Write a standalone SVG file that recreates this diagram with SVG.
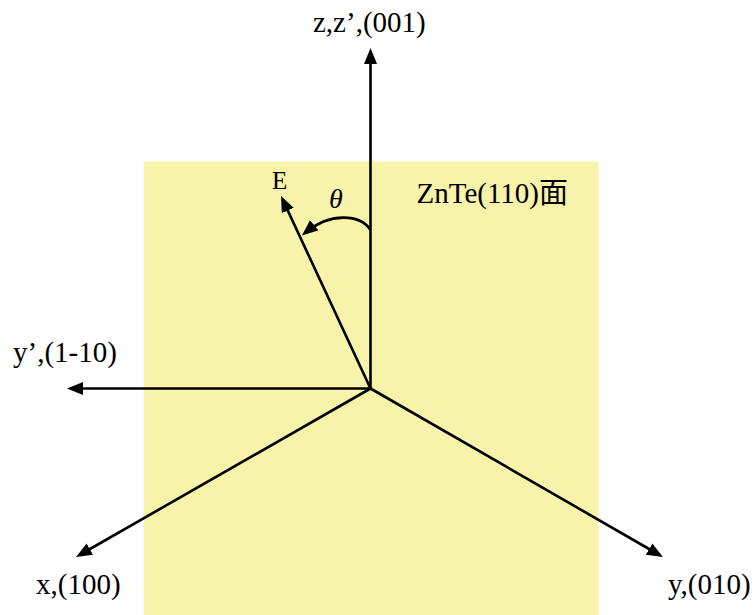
<svg xmlns="http://www.w3.org/2000/svg" width="756" height="615" viewBox="0 0 756 615">
<defs>
<marker id="ah" markerUnits="userSpaceOnUse" markerWidth="18" markerHeight="14" refX="12" refY="6.5" orient="auto">
<path d="M0,0 L16,6.5 L0,13 Z" fill="#000"/>
</marker>
<style>
.ax{stroke:#000;stroke-width:2.6;fill:none;marker-end:url(#ah)}
.lb{font-family:"Liberation Serif","Times New Roman",serif;font-size:29px;fill:#000}
.e{font-family:"Liberation Serif","Times New Roman",serif;font-size:25px;fill:#000}
.th{font-family:"Liberation Serif","Times New Roman",serif;font-size:28px;font-style:italic;fill:#000}
</style>
</defs>
<rect width="756" height="615" fill="#fff"/>
<g id="plane">
<rect x="143.5" y="161.5" width="455" height="454" fill="#F7F3AA"/>
<text class="lb" x="416.5" y="203">ZnTe(110)<tspan font-family="Noto Sans CJK SC, serif">面</tspan></text>
</g>
<g id="connectors">
<path class="ax" d="M370.5,388.5 L370.5,52"/>
<path class="ax" d="M370.5,388.5 L71,388.5"/>
<path class="ax" d="M370.5,388.5 L79.5,555"/>
<path class="ax" d="M370.5,388.5 L659.5,555"/>
<path class="ax" d="M370.5,388.5 L282.7,199.6"/>
<path class="ax" d="M370.5,230 C360,214 330,212 305,233"/>
</g>
<g id="z-axis"><text class="lb" x="313" y="32">z,z’,(001)</text></g>
<g id="yprime-axis"><text class="lb" x="13" y="362">y’,(1-10)</text></g>
<g id="x-axis"><text class="lb" x="36" y="594">x,(100)</text></g>
<g id="y-axis"><text class="lb" x="668" y="594">y,(010)</text></g>
<g id="E-vector"><text class="e" x="272" y="189">E</text></g>
<g id="theta"><text class="th" x="329" y="208">θ</text></g>
</svg>
